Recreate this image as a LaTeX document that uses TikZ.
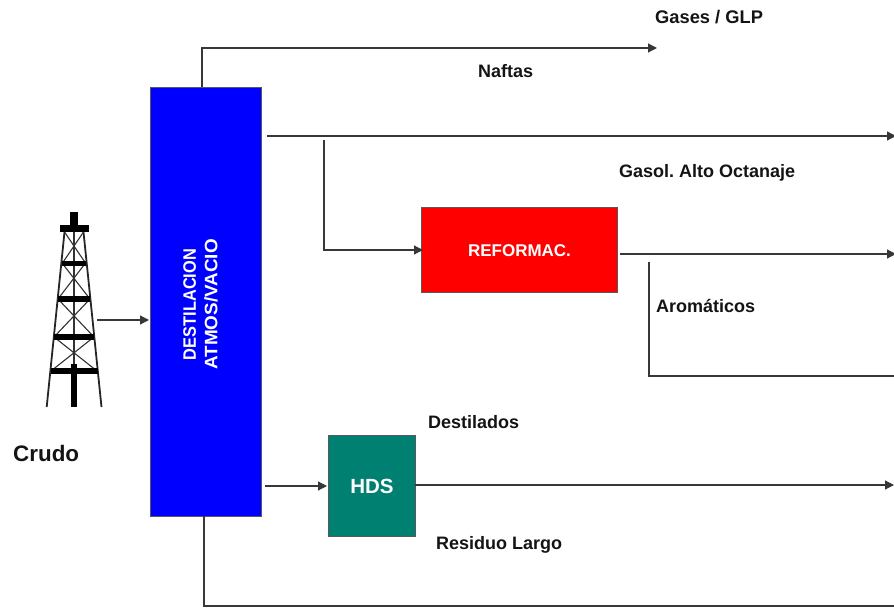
\documentclass[tikz,border=0pt]{standalone}
\usepackage{fontspec}
\setmainfont{Liberation Sans}
\usetikzlibrary{arrows.meta}
\definecolor{hdsgreen}{RGB}{0,128,112}
\definecolor{linegray}{RGB}{55,55,55}
\tikzset{
  box/.style={draw=black!65,line width=1pt,inner sep=0pt,anchor=north west,text=white,font=\bfseries},
  lbl/.style={inner sep=0pt,text=black!92,font=\fontsize{18}{20}\selectfont\bfseries\frenchspacing},
  flow/.style={draw=linegray,line width=1.2pt,-{Triangle[length=9pt,width=9pt]}},
  plain/.style={draw=linegray,line width=1.2pt},
  leg/.style={draw=black!85,line width=1.8pt},
  brace/.style={draw=black!80,line width=1.1pt}
}
\begin{document}
\begin{tikzpicture}[x=1pt,y=-1pt]
\useasboundingbox (0,0) rectangle (894,609);
% boxes
\node[box,fill=blue,minimum width=111pt,minimum height=429pt] (col) at (150,87) {};
\node[text=white,font=\fontsize{18}{21.5}\selectfont\bfseries,rotate=90,align=center,inner sep=0pt] (coltext) at (200.5,304.5) {\scalebox{0.91}[1]{DESTILACION}\\\scalebox{1.05}[1]{ATMOS/VACIO}};
\node[box,fill=red,minimum width=196pt,minimum height=85pt,text depth=-2pt,font=\fontsize{17}{20}\selectfont\bfseries] (ref) at (421,207) {\raisebox{-2pt}{REFORMAC.}};
\node[box,fill=hdsgreen,minimum width=87pt,minimum height=101pt,font=\fontsize{20.5}{24}\selectfont\bfseries] (hds) at (328,435) {\raisebox{-1pt}{HDS}};
% coordinates
\coordinate (gasEnd) at (657,48);
\coordinate (gasCorner) at (202,48);
\coordinate (gasStart) at (202,87);
\coordinate (naftaStart) at (267,136);
\coordinate (naftaEnd) at (896,136);
\coordinate (branch) at (324,140);
\coordinate (branchCorner) at (324,250);
\coordinate (refIn) at (423,250);
\coordinate (refOut) at (620,254);
\coordinate (refEnd) at (896,254);
\coordinate (aroStart) at (649,262);
\coordinate (aroCorner) at (649,376);
\coordinate (aroEnd) at (894,376);
\coordinate (hdsFrom) at (265,486);
\coordinate (hdsIn) at (327,486);
\coordinate (hdsOut) at (415,485);
\coordinate (hdsEnd) at (894,485);
\coordinate (resStart) at (204,516);
\coordinate (resCorner) at (204,606);
\coordinate (resEnd) at (894,606);
\coordinate (crudeStart) at (97,320);
\coordinate (crudeEnd) at (149,320);
% connectors
\draw[flow] (gasStart) -- (gasCorner) -- (gasEnd);
\draw[flow] (naftaStart) -- (naftaEnd);
\draw[flow] (branch) -- (branchCorner) -- (refIn);
\draw[flow] (refOut) -- (refEnd);
\draw[plain] (aroStart) -- (aroCorner) -- (aroEnd);
\draw[flow] (hdsFrom) -- (hdsIn);
\draw[flow] (hdsOut) -- (hdsEnd);
\draw[plain] (resStart) -- (resCorner) -- (resEnd);
\draw[flow] (crudeStart) -- (crudeEnd);
% labels
\node[lbl,anchor=base west,font=\fontsize{18.3}{20}\selectfont\bfseries\frenchspacing] (l1) at (655,24) {Gases / GLP};
\node[lbl,anchor=base west] (l2) at (478,78) {Naftas};
\node[lbl,anchor=base west] (l3) at (619,178) {Gasol. Alto Octanaje};
\node[lbl,anchor=base west] (l4) at (656,313) {Aromáticos};
\node[lbl,anchor=base west] (l5) at (428,428) {Destilados};
\node[lbl,anchor=base west] (l6) at (436,549) {Residuo Largo};
\node[lbl,anchor=base west,font=\fontsize{22.4}{25}\selectfont\bfseries] (l7) at (13,461) {Crudo};
% derrick
\fill[black] (70,212.5) rectangle (78,225);
\fill[black] (59.5,225) rectangle (88.5,232.5);
\draw[leg] (64.5,232) -- (46.7,407);
\draw[leg] (83.5,232) -- (101.5,407);
\draw[brace] (74,232) -- (74,365);
\draw[brace] (64.5,232) -- (85.5,263) (83.5,232) -- (62.5,263);
\draw[brace] (62,263) -- (90,299) (85.5,263) -- (58,299);
\draw[brace] (58,299) -- (94,337) (90,299) -- (54,337);
\draw[brace] (54,337) -- (97,371) (94,337) -- (51,371);
\fill[black] (62,261) rectangle (85.7,266);
\fill[black] (57.5,296) rectangle (90.2,302);
\fill[black] (54,334) rectangle (94,340);
\fill[black] (50.5,368) rectangle (97.7,374);
\fill[black] (71,364) rectangle (77.3,407);
\end{tikzpicture}
\end{document}
